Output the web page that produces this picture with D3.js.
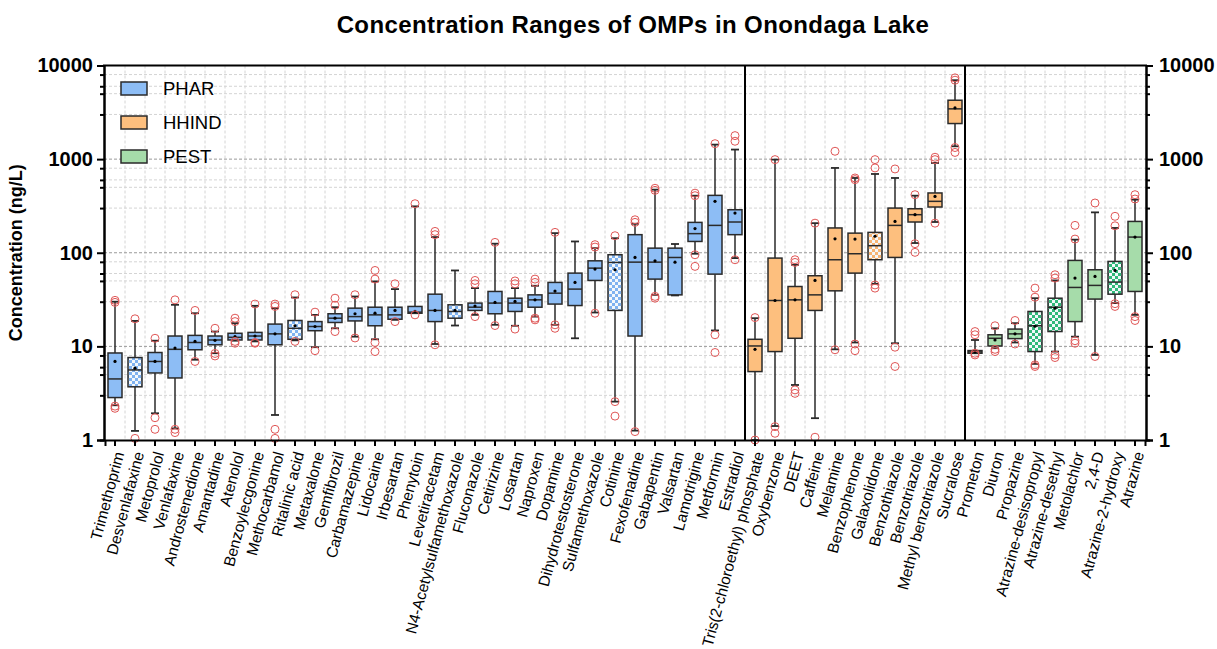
<!DOCTYPE html>
<html>
<head>
<meta charset="utf-8">
<script src="https://cdn.jsdelivr.net/npm/d3@7"></script>
<style>
  html, body { margin: 0; padding: 0; background: #fff; }
  svg text { font-family: "Liberation Sans", Arial, sans-serif; fill: #000; }
</style>
</head>
<body>
<svg id="chart" width="1217" height="649"></svg>
<script>
// Compounds in plotting order, grouped by class
const compounds = [
  "Trimethoprim", "Desvenlafaxine", "Metoprolol", "Venlafaxine", "Androstenedione",
  "Amantadine", "Atenolol", "Benzoylecgonine", "Methocarbamol", "Ritalinic acid",
  "Metaxalone", "Gemfibrozil", "Carbamazepine", "Lidocaine", "Irbesartan",
  "Phenytoin", "Levetiracetam", "N4-Acetylsulfamethoxazole", "Fluconazole", "Cetirizine",
  "Losartan", "Naproxen", "Dopamine", "Dihydrotestosterone", "Sulfamethoxazole",
  "Cotinine", "Fexofenadine", "Gabapentin", "Valsartan", "Lamotrigine",
  "Metformin", "Estradiol",
  "Tris(2-chloroethyl) phosphate", "Oxybenzone", "DEET", "Caffeine", "Melamine",
  "Benzophenone", "Galaxolidone", "Benzothiazole", "Benzotriazole", "Methyl benzotriazole",
  "Sucralose",
  "Prometon", "Diuron", "Propazine", "Atrazine-desisopropyl", "Atrazine-desethyl",
  "Metolachlor", "2,4-D", "Atrazine-2-hydroxy", "Atrazine"
];
const classNames = ["PHAR", "HHIND", "PEST"];
const classCounts = [32, 11, 9];
// Compounds drawn with a checkered fill
const checkered = ["Desvenlafaxine", "Ritalinic acid", "N4-Acetylsulfamethoxazole", "Cotinine",
  "Galaxolidone", "Atrazine-desisopropyl", "Atrazine-desethyl", "Atrazine-2-hydroxy"];

// Box statistics (ng/L)
const whiskerLow = [2.35, 1.25, 1.93, 1.33, 7.2, 8.45, 11.5, 11.3, 1.85, 11.6,
  9.8, 15.6, 12.7, 11.9, 19.2, 22.6, 10.6, 16.7, 21.7, 17.0,
  16.6, 20.8, 17.0, 12.2, 23.0, 2.57, 1.26, 35.5, 35.0, 97.6,
  14.8, 87.7,
  1.0, 1.41, 3.87, 1.71, 9.3, 11.0, 46.6, 10.8, 127, 213, 1371,
  8.45, 9.56, 11.0, 6.5, 8.8, 12.7, 8.1, 29.0, 21.7];
const q1 = [2.84, 3.7, 5.2, 4.6, 9.2, 10.4, 11.7, 11.7, 10.4, 11.9,
  14.7, 18.0, 18.7, 16.6, 19.5, 22.6, 18.4, 20.0, 24.2, 22.3,
  23.6, 26.2, 28.3, 27.3, 50.6, 24.2, 12.9, 52.3, 35.5, 132,
  59.1, 156,
  5.38, 8.8, 12.2, 24.2, 39.2, 60.6, 84.2, 89.1, 213, 308, 2399,
  8.45, 10.1, 12.1, 8.8, 14.4, 18.4, 32.0, 36.1, 38.6];
const median = [4.49, 5.6, 6.9, 9.3, 11.0, 11.7, 12.5, 12.9, 13.6, 15.6,
  16.3, 20.0, 20.8, 21.7, 21.7, 23.2, 24.2, 23.6, 26.2, 29.0,
  29.0, 31.4, 37.0, 40.9, 68.5, 78.8, 79.4, 79.4, 89.0, 160,
  196, 213,
  10.1, 30.9, 31.4, 35.5, 84.2, 97.6, 119, 196, 255, 354, 3443,
  8.73, 12.2, 13.6, 16.6, 26.2, 42.6, 44.8, 48.6, 147];
const q3 = [8.5, 7.6, 8.6, 12.9, 13.1, 12.9, 13.8, 14.1, 17.3, 18.9,
  18.4, 22.3, 25.6, 26.2, 26.2, 26.7, 36.1, 27.8, 29.0, 38.6,
  32.7, 35.5, 48.2, 60.6, 82.0, 95.2, 156, 112, 112, 211,
  410, 288,
  11.9, 87.7, 43.6, 56.8, 184, 162, 165, 300, 295, 435, 4256,
  9.02, 13.3, 15.3, 23.6, 32.7, 82.8, 65.8, 80.8, 216];
const whiskerHigh = [30, 18.7, 11.5, 27.8, 22.6, 14.4, 17.7, 27.1, 25.6, 33.3,
  21.7, 26.2, 34.1, 49.4, 40.9, 313, 147, 64.7, 41.9, 125,
  41.9, 44.4, 162, 132, 112, 143, 204, 472, 124, 407,
  1429, 1265,
  20, 988, 74.4, 207, 805, 629, 694, 629, 407, 910, 6966,
  11.7, 15.6, 17.7, 32.7, 50.6, 138, 270, 184, 369];
const means = [6.9, 5.85, 6.9, 9.6, 11.3, 11.6, 12.7, 12.9, 13.6, 16.6,
  16.3, 20.0, 22.3, 22.6, 24.2, 23.6, 24.2, 24.2, 27.0, 29.5,
  30.2, 31.4, 39.0, 48.2, 66.9, 65.8, 89.1, 82.0, 79.4, 181,
  354, 265,
  9.3, 30.9, 31.4, 50.6, 141, 140, 150, 216, 255, 400, 3525,
  8.73, 11.7, 13.6, 16.4, 25.6, 53.6, 55.8, 64.7, 147];
const outliers = [
  [31, 29.5, 2.3, 2.18], [19.7, 1.04], [12.2, 1.73, 1.3], [31.4, 1.3, 1.2], [24.2, 6.9],
  [15.6, 8.4, 7.9], [20, 18.4, 11.3, 10.8], [28.3, 11.0, 10.8], [28.3, 26.7, 1.3, 1.04], [35.6, 11.3],
  [23.2, 9.0], [32.7, 27.5, 14.4], [35.6, 12.3], [64.7, 52.3, 11.0, 8.8], [46.6, 18.4],
  [334, 21.7], [169, 156, 10.4], [], [50.6, 46.6, 20.8], [129, 16.7],
  [50, 46.6, 15.3], [52.3, 48.2, 20.0, 19.2], [165, 17.0, 15.6], [], [122, 115, 22.6],
  [152, 2.57, 1.8], [225, 211, 1.23], [488, 464, 34.2, 32.7], [], [433, 407, 95.2, 71.5],
  [1462, 13.3, 8.6], [1783, 1552, 84.2],
  [20.3, 1.0], [988, 1.39, 1.18], [84.2, 78.8, 3.43, 3.15], [207, 1.07], [1213, 9.2],
  [629, 604, 10.6, 9.0], [988, 805, 45.3, 41.9], [785, 9.8, 6.1], [417, 125, 101], [1047, 988, 207],
  [7380, 6966, 1330, 1179],
  [14.4, 13.3, 8.45, 8.1], [16.6, 9.3, 8.8], [18.9, 10.6], [41.9, 33.5, 6.35, 6.1], [58.2, 53.6, 8.1, 7.6],
  [196, 140, 11.5, 10.8], [340, 7.8], [245, 194, 28.6, 26.7], [417, 375, 20.8, 18.9]
];

const majorTicks = [1, 10, 100, 1000, 10000];
const minorSteps = [3, 5, 6, 8];

// Class colours: box fill, checker colour
const classFill = { PHAR: "#8dbdf5", HHIND: "#fdbf7e", PEST: "#a6dcaa" };
const classChecker = { PHAR: "#7fb2f0", HHIND: "#f7b574", PEST: "#31b97a" };

const classOf = [];
classNames.forEach((c, k) => { for (let j = 0; j < classCounts[k]; j++) classOf.push(c); });

const svg = d3.select("#chart");
const plotLeft = 104, plotRight = 1146, plotTop = 65.5, plotBottom = 440;

const x = d3.scaleBand().domain(compounds).range([plotLeft + 1, plotRight - 1]).padding(0);
const y = d3.scaleLog().domain([1, 10000]).range([plotBottom, plotTop]);
const boxW = 14, capW = 8;

// Checker fills
const defs = svg.append("defs");
classNames.forEach(c => {
  const p = defs.append("pattern").attr("id", "chk-" + c)
    .attr("patternUnits", "userSpaceOnUse").attr("width", 6).attr("height", 6);
  p.append("rect").attr("width", 6).attr("height", 6).attr("fill", "#f4f8fb");
  p.append("rect").attr("width", 3).attr("height", 3).attr("fill", classChecker[c]);
  p.append("rect").attr("x", 3).attr("y", 3).attr("width", 3).attr("height", 3).attr("fill", classChecker[c]);
});

// Grid
const minorVals = [];
[1, 10, 100, 1000].forEach(d => minorSteps.forEach(s => minorVals.push(d * s)));
const grid = svg.append("g");
grid.selectAll("line.vg").data(compounds.slice(0, -1)).join("line")
  .attr("x1", d => x(d) + x.bandwidth()).attr("x2", d => x(d) + x.bandwidth())
  .attr("y1", plotTop).attr("y2", plotBottom)
  .attr("stroke", "#d4d4d4").attr("stroke-width", 1).attr("stroke-dasharray", "3,2");
grid.selectAll("line.mg").data(minorVals).join("line")
  .attr("x1", plotLeft).attr("x2", plotRight).attr("y1", d => y(d)).attr("y2", d => y(d))
  .attr("stroke", "#d4d4d4").attr("stroke-width", 1).attr("stroke-dasharray", "3,2");
grid.selectAll("line.Mg").data(majorTicks.slice(1, -1)).join("line")
  .attr("x1", plotLeft).attr("x2", plotRight).attr("y1", d => y(d)).attr("y2", d => y(d))
  .attr("stroke", "#9a9a9a").attr("stroke-width", 1).attr("stroke-dasharray", "3,2");

// Class separators
let acc = 0;
const seps = [];
classCounts.slice(0, -1).forEach(n => { acc += n; seps.push(compounds[acc]); });
svg.selectAll("line.sep").data(seps).join("line")
  .attr("x1", d => x(d)).attr("x2", d => x(d)).attr("y1", plotTop).attr("y2", plotBottom)
  .attr("stroke", "#000").attr("stroke-width", 2);

// Boxes
const boxes = svg.append("g").selectAll("g").data(compounds).join("g")
  .attr("transform", d => `translate(${x(d) + x.bandwidth() / 2},0)`);
boxes.each(function (name, i) {
  const g = d3.select(this);
  const stroke = "#2a2a2a";
  g.append("line").attr("x1", 0).attr("x2", 0).attr("y1", y(whiskerHigh[i])).attr("y2", y(q3[i]))
    .attr("stroke", stroke).attr("stroke-width", 1.5);
  g.append("line").attr("x1", 0).attr("x2", 0).attr("y1", y(q1[i])).attr("y2", y(whiskerLow[i]))
    .attr("stroke", stroke).attr("stroke-width", 1.5);
  [whiskerHigh[i], whiskerLow[i]].forEach(v => {
    g.append("line").attr("x1", -capW / 2).attr("x2", capW / 2).attr("y1", y(v)).attr("y2", y(v))
      .attr("stroke", stroke).attr("stroke-width", 1.8);
  });
  const fill = checkered.includes(name) ? `url(#chk-${classOf[i]})` : classFill[classOf[i]];
  g.append("rect").attr("x", -boxW / 2).attr("width", boxW)
    .attr("y", y(q3[i])).attr("height", Math.max(1, y(q1[i]) - y(q3[i])))
    .attr("fill", fill).attr("stroke", stroke).attr("stroke-width", 1.5);
  g.append("line").attr("x1", -boxW / 2).attr("x2", boxW / 2).attr("y1", y(median[i])).attr("y2", y(median[i]))
    .attr("stroke", stroke).attr("stroke-width", 1.5);
  g.append("circle").attr("cx", 0).attr("cy", y(means[i])).attr("r", 1.6).attr("fill", "#000");
  g.selectAll("circle.o").data(outliers[i]).join("circle")
    .attr("cx", 0).attr("cy", v => y(v)).attr("r", 4)
    .attr("fill", "none").attr("stroke", "#e05858").attr("stroke-width", 1);
});

// Axes
const fmt = d3.format("d");
const yl = svg.append("g").attr("transform", `translate(${plotLeft},0)`)
  .call(d3.axisLeft(y).tickValues(majorTicks).tickFormat(fmt).tickSize(7).tickPadding(4));
const ylm = svg.append("g").attr("transform", `translate(${plotLeft},0)`)
  .call(d3.axisLeft(y).tickValues(minorVals).tickFormat("").tickSize(4));
const yr = svg.append("g").attr("transform", `translate(${plotRight},0)`)
  .call(d3.axisRight(y).tickValues(majorTicks).tickFormat(fmt).tickSize(7).tickPadding(6));
const yrm = svg.append("g").attr("transform", `translate(${plotRight},0)`)
  .call(d3.axisRight(y).tickValues(minorVals).tickFormat("").tickSize(4));
const xa = svg.append("g").attr("transform", `translate(0,${plotBottom})`)
  .call(d3.axisBottom(x).tickSize(6).tickFormat(""));

[yl, ylm, yr, yrm, xa].forEach(a => {
  a.select(".domain").attr("stroke", "#000").attr("stroke-width", 2);
  a.selectAll(".tick line").attr("stroke", "#000").attr("stroke-width", 2);
});
[yl, yr].forEach(a => a.selectAll(".tick text")
  .attr("font-size", 20).attr("font-weight", "bold").attr("fill", "#000"));

// Top frame
svg.append("line").attr("x1", plotLeft - 1).attr("x2", plotRight + 1).attr("y1", plotTop).attr("y2", plotTop)
  .attr("stroke", "#000").attr("stroke-width", 2);

// Category labels
svg.append("g").selectAll("text").data(compounds).join("text")
  .attr("transform", d => `translate(${x(d) + x.bandwidth() / 2 + 4},${plotBottom + 12}) rotate(-75)`)
  .attr("text-anchor", "end").attr("dy", "0.35em")
  .attr("font-size", 15.5).text(d => d);

// Axis title
svg.append("text").attr("transform", `translate(22,${(plotTop + plotBottom) / 2}) rotate(-90)`)
  .attr("text-anchor", "middle").attr("font-size", 18).attr("font-weight", "bold")
  .text("Concentration (ng/L)");

// Chart title
svg.append("text").attr("x", 633).attr("y", 33).attr("text-anchor", "middle")
  .attr("font-size", 24).attr("font-weight", "bold").attr("letter-spacing", 0.4)
  .text("Concentration Ranges of OMPs in Onondaga Lake");

// Legend
const lg = svg.append("g").selectAll("g").data(classNames).join("g")
  .attr("transform", (d, k) => `translate(121,${82 + k * 34})`);
lg.append("rect").attr("width", 26).attr("height", 13)
  .attr("fill", d => classFill[d]).attr("stroke", "#2a2a2a").attr("stroke-width", 1.5);
lg.append("text").attr("x", 42).attr("y", 6.5).attr("dy", "0.35em")
  .attr("font-size", 18.5).text(d => d);
</script>
</body>
</html>
